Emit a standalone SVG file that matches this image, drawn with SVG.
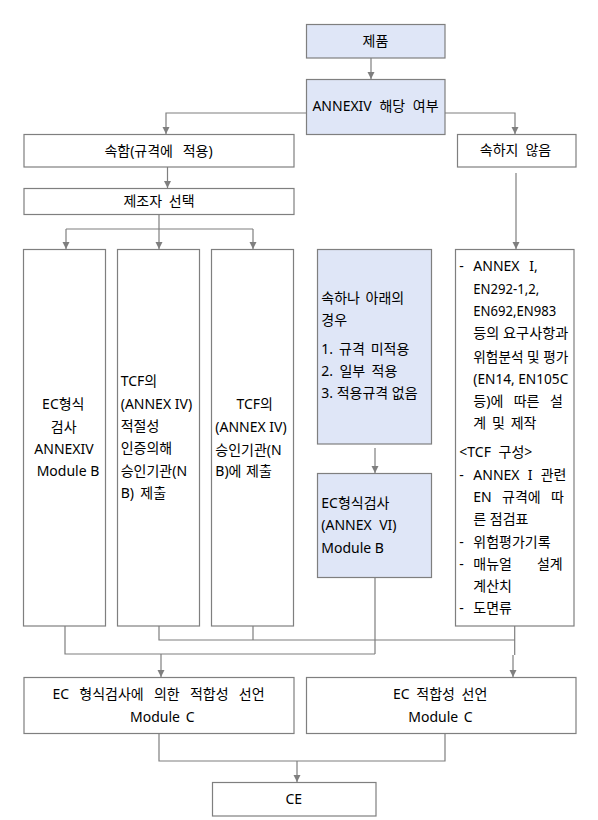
<svg xmlns="http://www.w3.org/2000/svg" width="598" height="820" viewBox="0 0 598 820">
<style>
.box{fill:#ffffff;stroke:#7f7f7f;stroke-width:1.2}
.blue{fill:#dfe6f7}
.ln{fill:none;stroke:#7f7f7f;stroke-width:1.2}
.t{font-family:"Noto Sans","Noto Sans CJK KR",sans-serif;font-size:14px;fill:#000000}
.m{text-anchor:middle}
</style>
<defs>
<marker id="ah" markerUnits="userSpaceOnUse" markerWidth="8" markerHeight="8" refX="7" refY="3.5" orient="auto">
<path d="M0,0 L7,3.5 L0,7 z" fill="#7f7f7f"/>
</marker>
</defs>
<rect width="598" height="820" fill="#ffffff"/>
<g id="connectors">
<path class="ln" d="M371,58 V79" marker-end="url(#ah)"/>
<path class="ln" d="M306.5,113 H166 V134" marker-end="url(#ah)"/>
<path class="ln" d="M445,113 H515 V134" marker-end="url(#ah)"/>
<path class="ln" d="M167.5,167 V188" marker-end="url(#ah)"/>
<path class="ln" d="M159,214 V229 M66,229 H253"/>
<path class="ln" d="M66,229 V249" marker-end="url(#ah)"/>
<path class="ln" d="M159,229 V249" marker-end="url(#ah)"/>
<path class="ln" d="M253,229 V249" marker-end="url(#ah)"/>
<path class="ln" d="M516,173 V249" marker-end="url(#ah)"/>
<path class="ln" d="M375,448 V473" marker-end="url(#ah)"/>
<path class="ln" d="M65,626 V654 H375 M375,578 V654"/>
<path class="ln" d="M161,654 V677" marker-end="url(#ah)"/>
<path class="ln" d="M159,626 V640 H514.7 M253,626 V640 M514.7,626 V655"/>
<path class="ln" d="M513,655 V677" marker-end="url(#ah)"/>
<path class="ln" d="M159,733 V761 H445 V733"/>
<path class="ln" d="M297,761 V782" marker-end="url(#ah)"/>
</g>
<g id="n-product">
<rect class="box blue" x="306.5" y="24.5" width="138.5" height="33.5"/>
<text class="t m" x="375.5" y="46">제품</text>
</g>
<g id="n-annex">
<rect class="box blue" x="306.5" y="79.5" width="138.5" height="55"/>
<text class="t m" x="375.5" y="111" style="word-spacing:4px">ANNEXIV 해당 여부</text>
</g>
<g id="n-include">
<rect class="box" x="24" y="134.5" width="270" height="32.5"/>
<text class="t m" x="158.5" y="155.7" style="word-spacing:6px">속함(규격에 적용)</text>
</g>
<g id="n-notinclude">
<rect class="box" x="457.5" y="134.5" width="118.5" height="32.5"/>
<text class="t m" x="515.5" y="155" style="word-spacing:3.4px">속하지 않음</text>
</g>
<g id="n-maker">
<rect class="box" x="24" y="188.5" width="270" height="26"/>
<text class="t m" x="159" y="206" style="word-spacing:3px">제조자 선택</text>
</g>
<g id="n-col1">
<rect class="box" x="23.5" y="249.5" width="82" height="376.5"/>
<text class="t m" x="63.3" y="409.3">EC형식</text>
<text class="t m" x="63.7" y="431.7">검사</text>
<text class="t m" x="64" y="454.3">ANNEXIV</text>
<text class="t m" x="68" y="476">Module B</text>
</g>
<g id="n-col2">
<rect class="box" x="117.5" y="249.5" width="82" height="376.5"/>
<text class="t" x="120.7" y="386">TCF의</text>
<text class="t" x="120.7" y="409.3">(ANNEX IV)</text>
<text class="t" x="120.7" y="430.7">적절성</text>
<text class="t" x="120.7" y="453.3">인증의해</text>
<text class="t" x="120.7" y="476">승인기관(N</text>
<text class="t" x="120.7" y="498.3" style="word-spacing:2.7px">B) 제출</text>
</g>
<g id="n-col3">
<rect class="box" x="211.5" y="249.5" width="82" height="376.5"/>
<text class="t" x="236.5" y="409.3">TCF의</text>
<text class="t" x="215.3" y="431.7">(ANNEX IV)</text>
<text class="t" x="215.3" y="455">승인기관(N</text>
<text class="t" x="215.3" y="476" style="word-spacing:1px">B)에 제출</text>
</g>
<g id="n-partial">
<rect class="box blue" x="317.5" y="249.5" width="114" height="194.5"/>
<text class="t" x="321.3" y="302.7" style="word-spacing:2px">속하나 아래의</text>
<text class="t" x="321.3" y="325">경우</text>
<text class="t" x="321.3" y="354" style="word-spacing:2.3px">1. 규격 미적용</text>
<text class="t" x="321.3" y="375.7" style="word-spacing:2.7px">2. 일부 적용</text>
<text class="t" x="321.3" y="398.3">3. 적용규격 없음</text>
</g>
<g id="n-ectype">
<rect class="box blue" x="317.5" y="473.5" width="114" height="104"/>
<text class="t" x="321.3" y="508.3">EC형식검사</text>
<text class="t" x="321.3" y="530" style="word-spacing:3.8px">(ANNEX VI)</text>
<text class="t" x="321.3" y="553.3">Module B</text>
</g>
<g id="n-tcf">
<rect class="box" x="455.5" y="249.5" width="118.5" height="376.5"/>
<text class="t" x="459.3" y="271">-</text>
<text class="t" x="473.3" y="271" style="word-spacing:6px">ANNEX I,</text>
<text class="t" x="473.3" y="294" textLength="66" lengthAdjust="spacingAndGlyphs">EN292-1,2,</text>
<text class="t" x="473.3" y="316" textLength="83" lengthAdjust="spacingAndGlyphs">EN692,EN983</text>
<text class="t" x="473.3" y="338.3" textLength="95" lengthAdjust="spacingAndGlyphs">등의 요구사항과</text>
<text class="t" x="473.3" y="361.7" textLength="95" lengthAdjust="spacingAndGlyphs">위험분석 및 평가</text>
<text class="t" x="473.3" y="383.7" textLength="95" lengthAdjust="spacingAndGlyphs">(EN14, EN105C</text>
<text class="t" x="473.3" y="406" style="word-spacing:6.8px">등)에 따른 설</text>
<text class="t" x="473.3" y="428.3" style="word-spacing:2.2px">계 및 제작</text>
<text class="t" x="459.3" y="457" style="word-spacing:4px">&lt;TCF 구성&gt;</text>
<text class="t" x="459.3" y="480.3">-</text>
<text class="t" x="473.3" y="480.3" style="word-spacing:4.6px">ANNEX I 관련</text>
<text class="t" x="473.3" y="502" style="word-spacing:6.7px">EN 규격에 따</text>
<text class="t" x="473.3" y="523.7">른 점검표</text>
<text class="t" x="459.3" y="547">-</text>
<text class="t" x="473.3" y="547">위험평가기록</text>
<text class="t" x="459.3" y="568.7">-</text>
<text class="t" x="473.3" y="568.7" style="word-spacing:21.4px">매뉴얼 설계</text>
<text class="t" x="473.3" y="591">계산치</text>
<text class="t" x="459.3" y="613.3">-</text>
<text class="t" x="473.3" y="613.3">도면류</text>
</g>
<g id="n-decl-type">
<rect class="box" x="24" y="677.5" width="270" height="56"/>
<text class="t m" x="158.5" y="699" style="word-spacing:6.6px">EC 형식검사에 의한 적합성 선언</text>
<text class="t m" x="162.3" y="721.7" style="word-spacing:2px">Module C</text>
</g>
<g id="n-decl">
<rect class="box" x="306.5" y="677.5" width="269.5" height="56"/>
<text class="t m" x="440.2" y="699" style="word-spacing:3px">EC 적합성 선언</text>
<text class="t m" x="440.5" y="721.7" style="word-spacing:2px">Module C</text>
</g>
<g id="n-ce">
<rect class="box" x="212.5" y="782.5" width="163.5" height="33.5"/>
<text class="t m" x="293.7" y="804">CE</text>
</g>
</svg>
